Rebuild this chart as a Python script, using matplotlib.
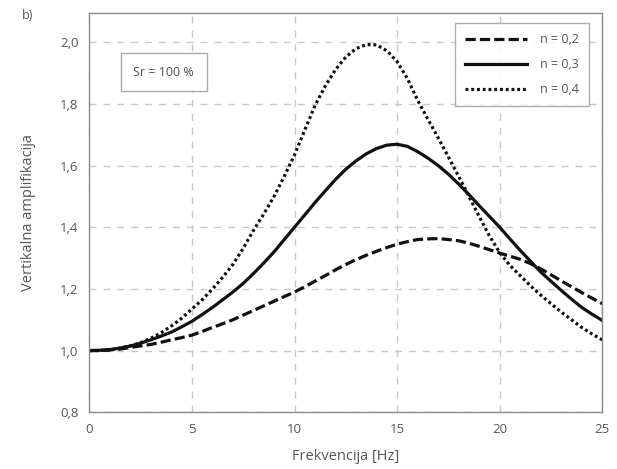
import matplotlib
matplotlib.use("Agg")
import matplotlib.pyplot as plt
from matplotlib.ticker import FuncFormatter

freq = [0, 0.5, 1, 1.5, 2, 2.5, 3, 3.5, 4, 4.5, 5, 5.5, 6, 6.5, 7, 7.5, 8, 8.5, 9, 9.5,
        10, 10.5, 11, 11.5, 12, 12.5, 13, 13.5, 14, 14.5, 15, 15.5, 16, 16.5, 17, 17.5,
        18, 18.5, 19, 19.5, 20, 20.5, 21, 21.5, 22, 22.5, 23, 23.5, 24, 24.5, 25]
amp_n02 = [1.0, 1.0, 1.002, 1.005, 1.01, 1.015, 1.02, 1.027, 1.035, 1.042, 1.05, 1.062,
           1.075, 1.087, 1.10, 1.115, 1.13, 1.145, 1.16, 1.175, 1.19, 1.207, 1.225, 1.243,
           1.262, 1.279, 1.295, 1.309, 1.322, 1.334, 1.345, 1.353, 1.36, 1.362, 1.363, 1.36,
           1.356, 1.348, 1.338, 1.327, 1.316, 1.306, 1.296, 1.282, 1.265, 1.246, 1.226,
           1.207, 1.188, 1.17, 1.152]
amp_n03 = [1.0, 1.001, 1.003, 1.008, 1.015, 1.024, 1.035, 1.047, 1.06, 1.077, 1.095, 1.117,
           1.14, 1.165, 1.19, 1.218, 1.25, 1.284, 1.32, 1.36, 1.40, 1.44, 1.48, 1.518,
           1.555, 1.588, 1.615, 1.638, 1.655, 1.666, 1.669, 1.662, 1.645, 1.624, 1.60, 1.572,
           1.54, 1.506, 1.47, 1.435, 1.40, 1.362, 1.325, 1.29, 1.255, 1.225, 1.195,
           1.167, 1.14, 1.118, 1.098]
amp_n04 = [1.0, 1.0, 1.003, 1.008, 1.015, 1.026, 1.04, 1.058, 1.08, 1.105, 1.135, 1.165,
           1.2, 1.238, 1.28, 1.332, 1.39, 1.443, 1.50, 1.565, 1.635, 1.715, 1.795, 1.858,
           1.911, 1.952, 1.979, 1.992, 1.991, 1.972, 1.937, 1.882, 1.812, 1.75, 1.69, 1.628,
           1.565, 1.50, 1.435, 1.372, 1.318, 1.276, 1.243, 1.21, 1.18, 1.152, 1.125,
           1.10, 1.075, 1.054, 1.035]
labels = ["n = 0,2", "n = 0,3", "n = 0,4"]
xticks = [0, 5, 10, 15, 20, 25]
yticks = [0.8, 1.0, 1.2, 1.4, 1.6, 1.8, 2.0]

plt.rcParams['font.family'] = ['Open Sans', 'DejaVu Sans']
txt = '#555555'

fig = plt.figure(figsize=(6.17, 4.69), dpi=100)
ax = fig.add_axes([0.145, 0.121, 0.831, 0.851])

ax.plot(freq, amp_n02, color='#111111', lw=2.3, linestyle=(0, (3.2, 1.3)), label=labels[0])
ax.plot(freq, amp_n03, color='#111111', lw=2.3, linestyle='-', label=labels[1])
ax.plot(freq, amp_n04, color='#111111', lw=2.3, linestyle=(0, (0.9, 0.9)), label=labels[2])

ax.set_xlim(0, 25)
ax.set_ylim(0.8, 2.094)
ax.set_xticks(xticks)
ax.set_yticks(yticks)
ax.yaxis.set_major_formatter(FuncFormatter(lambda v, p: f"{v:.1f}".replace('.', ',')))
ax.tick_params(length=0, labelsize=9.5, colors=txt, pad=8)
ax.grid(True, color='#c8c8c8', linestyle=(0, (5, 5)), lw=1)
for s in ax.spines.values():
    s.set_color('#8a8a8a')
    s.set_linewidth(1.0)

ax.set_xlabel("Frekvencija [Hz]", fontsize=10.5, color=txt, labelpad=9)
ax.set_ylabel("Vertikalna amplifikacija", fontsize=10.5, color=txt, labelpad=17)

leg = ax.legend(loc='upper right', fontsize=9, handlelength=5.0, frameon=True,
                fancybox=False, edgecolor='#999999', borderpad=0.8, labelspacing=0.95,
                bbox_to_anchor=(0.986, 0.99), handletextpad=1.0)
for t in leg.get_texts():
    t.set_color(txt)

ax.text(0.145, 0.852, "Sr = 100 %", transform=ax.transAxes, fontsize=9, color=txt,
        ha='center', va='center',
        bbox=dict(boxstyle='square,pad=1.0', fc='white', ec='#aaaaaa', lw=1))

fig.text(0.036, 0.967, "b)", fontsize=9, color=txt, ha='left', va='center')

fig.savefig("out.png", dpi=100)
